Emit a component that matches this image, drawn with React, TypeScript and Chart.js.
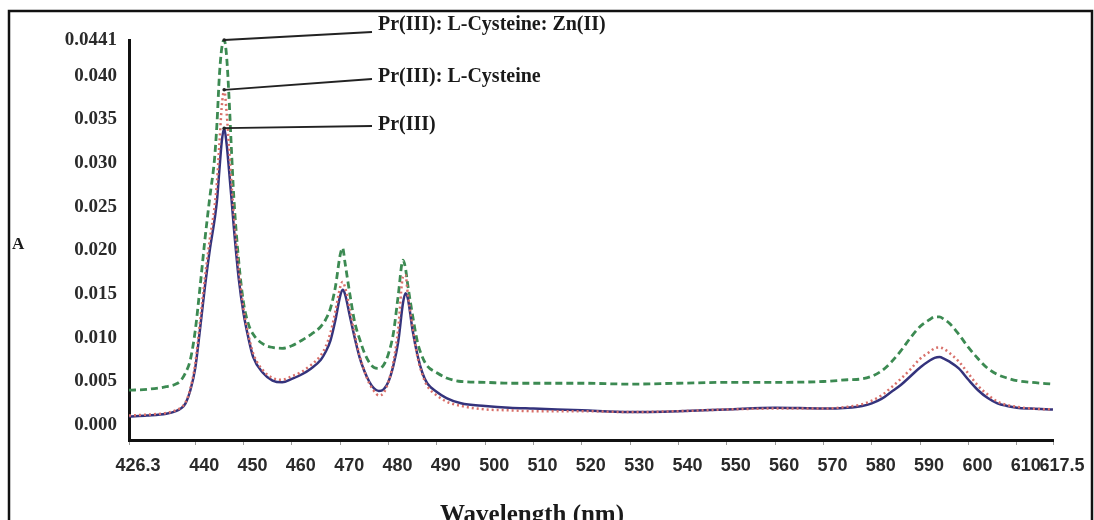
import React, { useEffect, useRef } from "react";
import { Chart, registerables } from "chart.js";

Chart.register(...registerables);

// ---- data ----
const WAVELENGTH = [
  426.3, 430, 434, 436, 437, 438, 439, 440, 441, 442,
  443, 444, 444.5, 445, 445.5, 446, 446.5, 447, 447.5, 448,
  449, 450, 451, 452, 454, 456, 458, 460, 462, 464,
  466, 467, 468, 469, 470, 470.5, 471, 472, 473, 474,
  475, 476, 477, 478, 479, 480, 481, 482, 483, 483.5,
  484, 485, 486, 487, 488, 490, 492, 495, 500, 505,
  510, 520, 530, 540, 550, 560, 570, 575, 578, 580,
  582, 584, 586, 588, 590, 592, 593, 594, 595, 596,
  598, 600, 602, 604, 606, 608, 610, 613, 617.5,
];

const PR_CYS_ZN = [
  0.0040, 0.0041, 0.0044, 0.0047, 0.0051, 0.0060, 0.0075, 0.0108, 0.0158, 0.0212,
  0.0260, 0.0305, 0.0345, 0.0400, 0.0432, 0.0441, 0.0422, 0.0375, 0.0315, 0.0260,
  0.0188, 0.0140, 0.0116, 0.0104, 0.0093, 0.0089, 0.0088, 0.0091, 0.0097, 0.0104,
  0.0113, 0.0121, 0.0134, 0.0158, 0.0195, 0.0203, 0.0186, 0.0150, 0.0118, 0.0099,
  0.0083, 0.0072, 0.0066, 0.0065, 0.0069, 0.0082, 0.0105, 0.0148, 0.0189, 0.0180,
  0.0160, 0.0125, 0.0095, 0.0078, 0.0068, 0.0060, 0.0054, 0.0050, 0.0049, 0.0048,
  0.0048, 0.0048, 0.0047, 0.0048, 0.0049, 0.0049, 0.0050, 0.0052, 0.0053, 0.0056,
  0.0062, 0.0072, 0.0085, 0.0100, 0.0113, 0.0121, 0.0124, 0.0124, 0.0121, 0.0117,
  0.0104, 0.0089, 0.0076, 0.0065, 0.0058, 0.0054, 0.0051, 0.0049, 0.0047,
];

const PR_CYS = [
  0.0011, 0.0012, 0.0014, 0.0017, 0.0020, 0.0026, 0.0042, 0.0070, 0.0118, 0.0168,
  0.0212, 0.0250, 0.0278, 0.0322, 0.0365, 0.0384, 0.0358, 0.0318, 0.0278, 0.0240,
  0.0178, 0.0133, 0.0104, 0.0082, 0.0063, 0.0054, 0.0052, 0.0056, 0.0061, 0.0069,
  0.0080, 0.0090, 0.0106, 0.0130, 0.0158, 0.0164, 0.0158, 0.0132, 0.0104, 0.0080,
  0.0062, 0.0048, 0.0039, 0.0034, 0.0037, 0.0050, 0.0072, 0.0110, 0.0170, 0.0172,
  0.0150, 0.0112, 0.0078, 0.0058, 0.0045, 0.0034, 0.0027, 0.0022, 0.0018, 0.0017,
  0.0016, 0.0016, 0.0015, 0.0016, 0.0018, 0.0019, 0.0019, 0.0021, 0.0024, 0.0028,
  0.0034, 0.0043, 0.0053, 0.0064, 0.0076, 0.0084, 0.0088, 0.0089, 0.0087, 0.0083,
  0.0073, 0.0059, 0.0045, 0.0035, 0.0027, 0.0023, 0.0021, 0.0019, 0.0018,
];

const PR = [
  0.0010, 0.0011, 0.0013, 0.0016, 0.0019, 0.0025, 0.0040, 0.0065, 0.0110, 0.0158,
  0.0200, 0.0235, 0.0257, 0.0292, 0.0325, 0.0340, 0.0322, 0.0292, 0.0260, 0.0226,
  0.0168, 0.0128, 0.0100, 0.0078, 0.0060, 0.0051, 0.0049, 0.0053, 0.0058, 0.0065,
  0.0075, 0.0084, 0.0097, 0.0120, 0.0148, 0.0155, 0.0150, 0.0125, 0.0100, 0.0078,
  0.0062, 0.0050, 0.0042, 0.0039, 0.0041, 0.0050, 0.0068, 0.0095, 0.0140, 0.0151,
  0.0145, 0.0108, 0.0080, 0.0060, 0.0048, 0.0038, 0.0031, 0.0025, 0.0022, 0.0020,
  0.0019, 0.0017, 0.0015, 0.0016, 0.0018, 0.0020, 0.0019, 0.0020, 0.0022, 0.0025,
  0.0030, 0.0038, 0.0046, 0.0056, 0.0066, 0.0074, 0.0077, 0.0078, 0.0076, 0.0073,
  0.0065, 0.0052, 0.0040, 0.0031, 0.0025, 0.0022, 0.0020, 0.0019, 0.0018,
];

const SERIES_NAMES = ["Pr(III): L-Cysteine: Zn(II)", "Pr(III): L-Cysteine", "Pr(III)"];

const X_TICKS = [426.3, 440, 450, 460, 470, 480, 490, 500, 510, 520, 530, 540, 550, 560, 570, 580, 590, 600, 610, 617.5];
const X_TICK_LABELS = ["426.3", "440", "450", "460", "470", "480", "490", "500", "510", "520", "530", "540", "550", "560", "570", "580", "590", "600", "610", "617.5"];
const Y_TICKS = [0, 0.005, 0.01, 0.015, 0.02, 0.025, 0.03, 0.035, 0.04, 0.0441];
const Y_TICK_LABELS = ["0.000", "0.005", "0.010", "0.015", "0.020", "0.025", "0.030", "0.035", "0.040", "0.0441"];

const X_TITLE = "Wavelength (nm)";
const Y_TITLE = "A";

// ---- layout / style (not data) ----
const W = 1094;
const H = 520;
const SERIF = "'Liberation Serif', 'Times New Roman', serif";
const SANS = "'Liberation Sans', Arial, sans-serif";
const LABEL_LAYOUT = [
  { endX: 372, endY: 32, textY: 25 },
  { endX: 372, endY: 79, textY: 77 },
  { endX: 372, endY: 126, textY: 125 },
];

const refPlugin = {
  id: "refDecor",
  beforeDraw(chart: any) {
    const ctx = chart.ctx;
    ctx.save();
    ctx.fillStyle = "#ffffff";
    ctx.fillRect(0, 0, chart.width, chart.height);
    ctx.restore();
  },
  afterDraw(chart: any) {
    const ctx = chart.ctx;
    const xs = chart.scales.x;
    const ys = chart.scales.y;
    ctx.save();
    // outer frame
    ctx.strokeStyle = "#111";
    ctx.lineWidth = 2.5;
    ctx.strokeRect(9, 11, 1083, 530);

    // axis titles
    ctx.fillStyle = "#1a1a1a";
    ctx.font = `bold 25px ${SERIF}`;
    ctx.textAlign = "left";
    ctx.textBaseline = "alphabetic";
    ctx.fillText(X_TITLE, 440, 522);
    ctx.font = `bold 17px ${SERIF}`;
    ctx.fillText(Y_TITLE, 12, 249);

    // peak annotations
    chart.data.datasets.forEach((ds: any) => {
      const lay = LABEL_LAYOUT[ds.annIndex];
      let best = 0;
      ds.data.forEach((p: any, k: number) => {
        if (p.y > ds.data[best].y) best = k;
      });
      const px = xs.getPixelForValue(ds.data[best].x);
      const py = ys.getPixelForValue(ds.data[best].y);
      ctx.strokeStyle = "#222";
      ctx.lineWidth = 1.8;
      ctx.beginPath();
      ctx.moveTo(px, py);
      ctx.lineTo(lay.endX, lay.endY);
      ctx.stroke();
      ctx.fillStyle = "#222";
      ctx.beginPath();
      ctx.arc(px, py, 1.8, 0, Math.PI * 2);
      ctx.fill();
      ctx.font = `bold 20px ${SERIF}`;
      ctx.textAlign = "left";
      ctx.textBaseline = "middle";
      ctx.fillStyle = "#1a1a1a";
      ctx.fillText(ds.label, lay.endX + 6, lay.textY);
    });
    ctx.restore();
  },
};

export default function App() {
  const canvasRef = useRef<HTMLCanvasElement | null>(null);

  useEffect(() => {
    const canvas = canvasRef.current;
    if (!canvas) return;
    const mk = (vals: number[]) => WAVELENGTH.map((x, i) => ({ x, y: vals[i] }));
    const chart = new Chart(canvas, {
      type: "line",
      data: {
        datasets: [
          {
            label: SERIES_NAMES[1],
            annIndex: 1,
            data: mk(PR_CYS),
            borderColor: "#d8706a",
            borderWidth: 2.5,
            borderDash: [2, 3],
            pointRadius: 0,
            cubicInterpolationMode: "monotone",
            fill: false,
          } as any,
          {
            label: SERIES_NAMES[2],
            annIndex: 2,
            data: mk(PR),
            borderColor: "#34337c",
            borderWidth: 2.5,
            pointRadius: 0,
            cubicInterpolationMode: "monotone",
            fill: false,
          } as any,
          {
            label: SERIES_NAMES[0],
            annIndex: 0,
            data: mk(PR_CYS_ZN),
            borderColor: "#3c8a52",
            borderWidth: 2.8,
            borderDash: [7, 4],
            pointRadius: 0,
            cubicInterpolationMode: "monotone",
            fill: false,
          } as any,
        ],
      },
      options: {
        animation: false,
        responsive: false,
        devicePixelRatio: 1,
        layout: { padding: { left: 0, right: 41, top: 40, bottom: 0 } },
        plugins: {
          legend: { display: false },
          tooltip: { enabled: false },
          title: { display: false },
        },
        scales: {
          x: {
            type: "linear",
            min: 426.3,
            max: 617.5,
            afterBuildTicks: (scale: any) => {
              scale.ticks = X_TICKS.map((v) => ({ value: v }));
            },
            afterFit: (scale: any) => {
              scale.height = 80;
            },
            ticks: {
              autoSkip: false,
              maxRotation: 0,
              minRotation: 0,
              labelOffset: 9,
              padding: 10,
              color: "#2a2a2a",
              font: { family: SANS, size: 18, weight: "bold" },
              callback: (_v: any, i: number) => X_TICK_LABELS[i],
            },
            grid: {
              display: true,
              drawOnChartArea: false,
              drawTicks: true,
              tickLength: 5,
              color: "#9a9a9a",
              tickWidth: 1,
            },
            border: { display: true, color: "#111", width: 3 },
          },
          y: {
            type: "linear",
            min: -0.0017,
            max: 0.0441,
            afterBuildTicks: (scale: any) => {
              scale.ticks = Y_TICKS.map((v) => ({ value: v }));
            },
            afterFit: (scale: any) => {
              scale.width = 129;
            },
            ticks: {
              autoSkip: false,
              padding: 12,
              color: "#2a2a2a",
              font: { family: SERIF, size: 19, weight: "bold" },
              callback: (_v: any, i: number) => Y_TICK_LABELS[i],
            },
            grid: { display: false, drawTicks: false },
            border: { display: true, color: "#111", width: 3 },
          },
        },
      } as any,
      plugins: [refPlugin],
    });
    return () => chart.destroy();
  }, []);

  return (
    <div style={{ position: "absolute", left: 0, top: 0, width: W, height: H, overflow: "hidden", background: "#fff" }}>
      <canvas ref={canvasRef} width={W} height={H} style={{ display: "block", width: W, height: H }} />
    </div>
  );
}
